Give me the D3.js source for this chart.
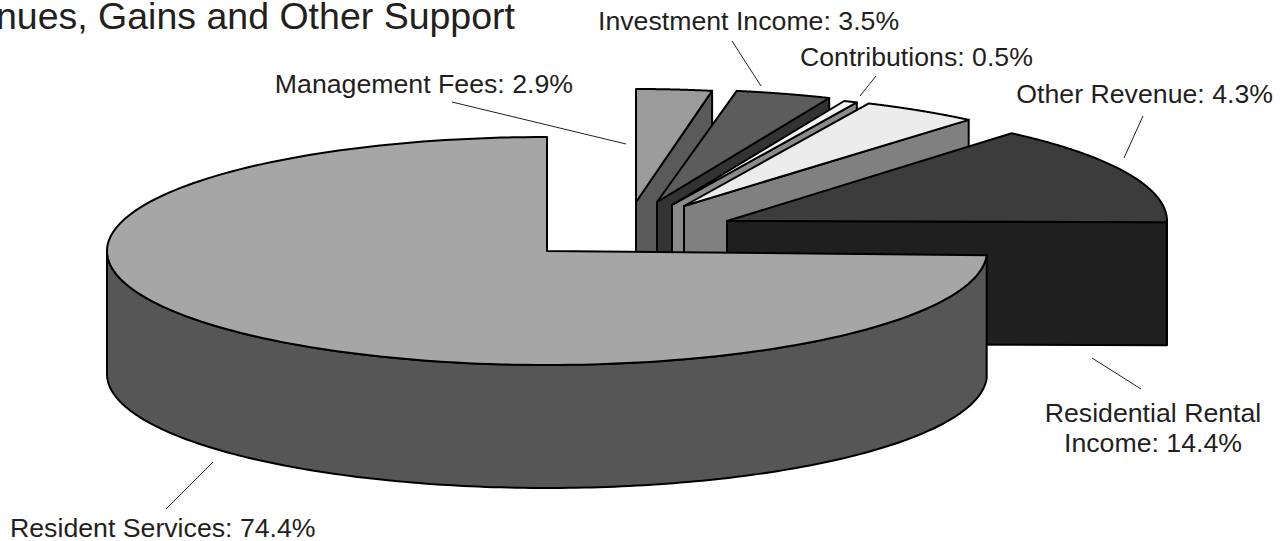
<!DOCTYPE html>
<html><head><meta charset="utf-8">
<script src="https://d3js.org/d3.v7.min.js"></script>
<style>html,body{margin:0;padding:0;background:#fff;overflow:hidden}svg{display:block}text{font-family:"Liberation Sans",Arial,sans-serif;fill:#231f20}</style>
</head><body><svg id="c" width="1282" height="541"></svg>
<script>
// Data, clockwise from 12 o'clock
const categories = ["Management Fees","Investment Income","Contributions","Other Revenue","Residential Rental Income","Resident Services"];
const shares = [2.9,3.5,0.5,4.3,14.4,74.4];
const title = "Revenues, Gains and Other Support";

// Styling and layout, kept apart from the data
const topFill  = ["#9b9b9b","#5c5c5c","#f4f4f4","#ececec","#3c3c3c","#a6a6a6"];
const wallFill = ["#5a5a5a","#333333","#8a8a8a","#808080","#1f1f1f","#565656"];
const apexX = [636,657,672,684,727,547];
const apexY = [202,202,205,206,221,251];
const upperRy = [113,113,113,113,115,114];
const lowerRy = [114,114,114,114,30,114];
const radiusX = [420,440,440,440,440,440];
const DEPTH = 123;
const labelLayout = [
  {lines:[0],x:573,y:92.5,a:"end",lead:[452,102,626,144]},
  {lines:[1],x:598,y:30,a:"start",lead:[732,41,761,86]},
  {lines:[2],x:800,y:66,a:"start",lead:[876,76,860,96]},
  {lines:[3],x:1273,y:102.5,a:"end",lead:[1143,116,1124,158]},
  {lines:["Residential Rental","Income: 14.4%"],x:1153,y:422,a:"middle",lead:[1141,389,1092,358]},
  {lines:[5],x:10,y:537,a:"start",lead:[166,509,213,462]}
];

const svg = d3.select("#c");
const arcs = d3.pie().sort(null).value(d=>d)(shares);

function pt(i,a,dz=0){
  const ry = Math.cos(a)>=0 ? upperRy[i] : lowerRy[i];
  return [apexX[i]+radiusX[i]*Math.sin(a), apexY[i]-ry*Math.cos(a)+dz];
}
const line = d3.line();
const steps = (a0,a1)=>d3.range(0,181).map(k=>a0+(a1-a0)*k/180);
const stroke = g=>g.attr("stroke","#000").attr("stroke-width",2).attr("stroke-linejoin","round");

arcs.forEach((d,i)=>{
  const g = svg.append("g");
  const apex = [apexX[i],apexY[i]];
  const s = d.startAngle, e = d.endAngle;
  // Curved outer wall: only the part that faces the viewer
  const w0 = Math.max(s,Math.PI/2), w1 = Math.min(e,3*Math.PI/2);
  if(w1>w0){
    const up = steps(w0,w1).map(a=>pt(i,a));
    const dn = steps(w1,w0).map(a=>pt(i,a,DEPTH));
    g.append("path").attr("d",line(up.concat(dn))+"Z").attr("fill",wallFill[i]).call(stroke);
  }
  // Radial wall on the clockwise side, visible between slices
  if(e<Math.PI*1.5){
    const o = pt(i,e);
    g.append("path").attr("d",line([apex,o,[o[0],o[1]+DEPTH],[apex[0],apex[1]+DEPTH]])+"Z")
      .attr("fill",wallFill[i]).call(stroke);
  }
  // Top face
  const rim = steps(s,e).map(a=>pt(i,a));
  g.append("path").attr("d",line([apex].concat(rim))+"Z").attr("fill",topFill[i]).call(stroke);
});

// Labels and leader lines
labelLayout.forEach((l,i)=>{
  svg.append("line").attr("x1",l.lead[0]).attr("y1",l.lead[1]).attr("x2",l.lead[2]).attr("y2",l.lead[3])
    .attr("stroke","#231f20").attr("stroke-width",1);
  const t = svg.append("text").attr("text-anchor",l.a).attr("font-size",26.7);
  l.lines.forEach((v,k)=>{
    const s = typeof v==="number" ? `${categories[v]}: ${shares[v]}%` : v;
    t.append("tspan").attr("x",l.x).attr("y",l.y+k*29.5).text(s);
  });
});
svg.append("text").attr("x",515).attr("y",29).attr("text-anchor","end").attr("font-size",37.5).text(title);
</script></body></html>
